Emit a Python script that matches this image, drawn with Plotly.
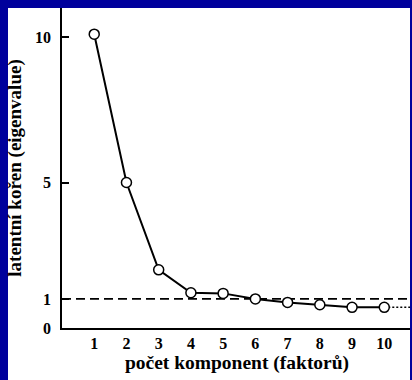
import plotly.graph_objects as go

# Data
components = [1, 2, 3, 4, 5, 6, 7, 8, 9, 10]
eigenvalues = [10.1, 5.0, 2.0, 1.21, 1.19, 1.0, 0.88, 0.80, 0.71, 0.71]
kaiser_level = 1
y_ticks = [0, 1, 5, 10]
x_ticks = [1, 2, 3, 4, 5, 6, 7, 8, 9, 10]
x_max = 10.86
y_max = 11.0

BLUE = "#00009c"
SERIF = "Liberation Serif, Times New Roman, serif"

fig = go.Figure()

# dotted continuation after the last component
fig.add_trace(go.Scatter(
    x=[components[-1], x_max], y=[eigenvalues[-1], eigenvalues[-1]],
    mode="lines", line=dict(color="black", width=1.5, dash="2px,2px"),
    hoverinfo="skip", showlegend=False))

fig.add_trace(go.Scatter(
    x=components, y=eigenvalues, mode="lines+markers",
    line=dict(color="black", width=2),
    marker=dict(symbol="circle", size=10, color="white",
                line=dict(color="black", width=1.5)),
    showlegend=False, cliponaxis=False))

# Kaiser criterion line
fig.add_shape(type="line", xref="paper", yref="y", x0=0, x1=1,
              y0=kaiser_level, y1=kaiser_level,
              line=dict(color="black", width=1.8, dash="9px,5px"), layer="below")

# blue frame around the white panel
PW, PH = 350, 320
fig.add_shape(type="rect", xref="paper", yref="paper",
              x0=-62/PW, x1=-54/PW, y0=-52/PH, y1=1 + 8/PH,
              fillcolor=BLUE, line=dict(width=0), layer="above")
fig.add_shape(type="rect", xref="paper", yref="paper",
              x0=-62/PW, x1=1.0, y0=1.0, y1=1 + 8/PH,
              fillcolor=BLUE, line=dict(width=0), layer="above")
fig.add_shape(type="rect", xref="paper", yref="paper",
              x0=1 - 2/PW, x1=1.0, y0=-52/PH, y1=1 + 8/PH,
              fillcolor=BLUE, line=dict(width=0), layer="above")

fig.update_layout(
    width=412, height=380,
    margin=dict(l=62, r=0, t=8, b=52, autoexpand=False),
    paper_bgcolor="white", plot_bgcolor="white",
    font=dict(family=SERIF, color="black"),
    xaxis=dict(range=[0, x_max], tickvals=x_ticks,
               ticktext=[f"<b>{v}</b>" for v in x_ticks],
               showgrid=False, zeroline=False, automargin=False,
               showline=True, linecolor="black", linewidth=1.5,
               ticks="",
               tickfont=dict(family=SERIF, size=16, color="black"),
               title=dict(text="<b>počet komponent (faktorů)</b>",
                          font=dict(family=SERIF, size=19.5, color="black"),
                          standoff=2)),
    yaxis=dict(range=[0, y_max], tickvals=y_ticks,
               ticktext=[f"<b>{v}</b>" for v in y_ticks],
               showgrid=False, zeroline=False, automargin=False,
               showline=True, linecolor="black", linewidth=1.5,
               ticks="inside", ticklen=7, tickwidth=1.5, tickcolor="black",
               ticklabelstandoff=6,
               tickfont=dict(family=SERIF, size=16, color="black"),
               title=dict(text="<b>latentní kořen (eigenvalue)</b>",
                          font=dict(family=SERIF, size=19, color="black"),
                          standoff=8)),
)

fig.write_html("out.html",
               config={"displayModeBar": False},
               post_script="document.body.style.margin='0';"
                           "document.body.style.overflow='hidden';")
